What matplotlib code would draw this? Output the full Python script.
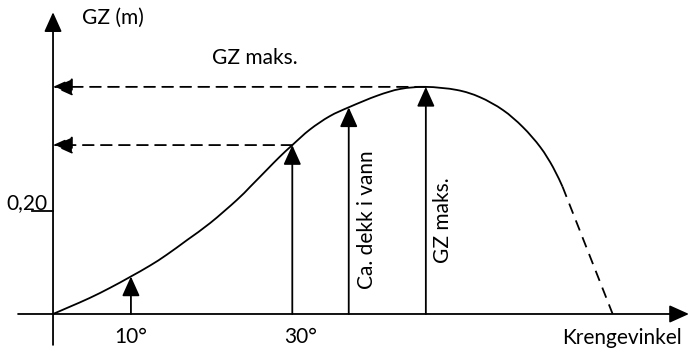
import numpy as np
import matplotlib
matplotlib.use('Agg')
import matplotlib.pyplot as plt
from matplotlib.path import Path
from matplotlib.patches import PathPatch

# GZ curve (heel angle in degrees, righting lever in metres)
heel = [0, 2.1, 4.6, 7.2, 9.7, 12.2, 14.3, 16.9, 19.8, 23.1, 24.8, 26.9, 28.5,
        30.1, 32.3, 34.8, 37.3, 40.8, 43.7, 46.9, 50.8, 53.7, 56.6, 59.1,
        61.3, 62.9, 64.1]
gz = [0, 0.014, 0.031, 0.051, 0.072, 0.094, 0.115, 0.144, 0.177, 0.221, 0.247,
      0.280, 0.305, 0.328, 0.358, 0.384, 0.402, 0.424, 0.437, 0.441, 0.435,
      0.421, 0.396, 0.363, 0.324, 0.285, 0.247]
# assumed continuation down to the angle of vanishing stability
tail_heel = [64.1, 70.4]
tail_gz = [0.247, 0.0]

# heel angles marked with arrows
marks = [9.8, 30.1, 37.2, 46.9]
tick_labels = ['10°', '30°']
tick_pos = [9.8, 31.1]
gz_tick = 0.20

plt.rcParams['font.family'] = ['Lato', 'DejaVu Sans']


def smooth_path(xs, ys, ax):
    # Catmull-Rom through the points, written as cubic Bezier segments in
    # display space so the curve looks even on screen
    pts = ax.transData.transform(np.column_stack([xs, ys]))
    verts = [pts[0]]
    codes = [Path.MOVETO]
    n = len(pts)
    for i in range(n - 1):
        p0 = pts[max(i - 1, 0)]
        p1 = pts[i]
        p2 = pts[i + 1]
        p3 = pts[min(i + 2, n - 1)]
        verts += [p1 + (p2 - p0) / 6, p2 - (p3 - p1) / 6, p2]
        codes += [Path.CURVE4] * 3
    verts = ax.transData.inverted().transform(np.array(verts))
    return Path(verts, codes)


fig = plt.figure(figsize=(6.9, 3.52), dpi=100)
ax = fig.add_axes([0, 0, 1, 1])
ax.set_xlim(-6.67, 80.13)
ax.set_ylim(-0.0738, 0.6097)
ax.axis('off')

fs = 15
lw = 1.3
head = dict(arrowstyle='-|>,head_length=0.6,head_width=0.27', color='black',
            lw=lw, mutation_scale=20, shrinkA=0, shrinkB=0)

# axes with arrow heads
ax.annotate('', xy=(0, 0.586), xytext=(0, -0.060), arrowprops=head)
ax.annotate('', xy=(80.0, 0), xytext=(-4.4, 0), arrowprops=head)
ax.plot([-2.64, 0], [gz_tick, gz_tick], color='black', lw=lw)

# the curve itself
ax.add_patch(PathPatch(smooth_path(heel, gz, ax), fill=False,
                       edgecolor='black', lw=1.3))
ax.plot(tail_heel, tail_gz, color='black', lw=1.3, ls=(0, (6, 4)))

# vertical arrows up to the curve
for h in marks:
    top = np.interp(h, heel, gz)
    ax.annotate('', xy=(h, top), xytext=(h, 0), arrowprops=head)

# dashed projections onto the GZ axis
dash_head = dict(head, ls=(0, (6, 4)))
for h in [46.9, 30.1]:
    level = np.interp(h, heel, gz)
    ax.annotate('', xy=(0, level), xytext=(h, level), arrowprops=dash_head)

ax.text(3.65, 0.575, 'GZ (m)', fontsize=fs, va='center', ha='left')
ax.text(-0.7, gz_tick + 0.003, '0,20', fontsize=fs, va='baseline', ha='right')
ax.text(25.4, 0.497, 'GZ maks.', fontsize=fs, va='center', ha='center')
for lab, p in zip(tick_labels, tick_pos):
    ax.text(p, -0.045, lab, fontsize=fs, va='center', ha='center')
ax.text(64.1, -0.046, 'Krengevinkel', fontsize=fs, va='center', ha='left')
ax.text(39.5, 0.183, 'Ca. dekk i vann', fontsize=fs, va='center', ha='center',
        rotation=90)
ax.text(49.1, 0.183, 'GZ maks.', fontsize=fs, va='center', ha='center',
        rotation=90)

fig.savefig('out.png', dpi=100)
